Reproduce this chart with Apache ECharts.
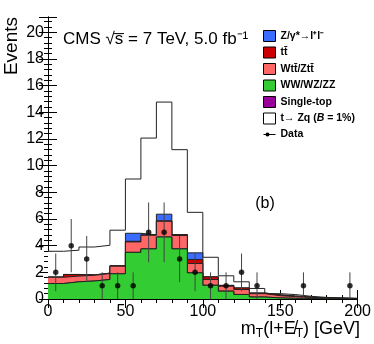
<!DOCTYPE html>
<html>
<head>
<meta charset="utf-8">
<script src="https://cdn.jsdelivr.net/npm/echarts@6/dist/echarts.min.js"></script>
<style>
html,body{margin:0;padding:0;background:#fff;}
#chart-container{width:374px;height:344px;}
</style>
</head>
<body>
<div id="chart-container"></div>
<script>
// bin edges in GeV (10 GeV bins)
var binEdges = [0,10,20,30,40,50,60,70,80,90,100,110,120,130,140,150,160,170,180,190,200];

// data counts and their error bars
var dataCounts = [2,4,3,1,1,1,5,5,3,2,1,1,2,1,0,0,1,0,0,1];
var dataErr = [1.41,2,1.73,1,1,1,2.24,2.24,1.73,1.41,1,1,1.41,1,0,0,1,0,0,1];

// backgrounds, each component alone
var diboson = [1.16,1.29,1.35,1.46,1.89,3.5,3.76,4.65,3.76,1.96,1.03,0.59,0.34,0.15,0.08,0.05,0.04,0.02,0.02,0.01];
var singleTop = [0,0,0,0,0,0,0,0,0,0,0,0,0,0,0,0,0,0,0,0];
var wttZtt = [0.47,0.43,0.43,0.45,0.57,0.78,1.02,1.18,1.0,0.7,0.43,0.37,0.37,0.25,0.17,0.13,0.08,0.06,0.03,0.02];
var ttbar = [0.02,0.12,0.03,0.03,0.03,0.05,0.03,0.03,0.07,0.3,0.2,0.06,0.12,0.05,0.06,0.04,0.02,0.01,0.01,0.01];
var zgamma = [0,0,0,0,0,0.6,0,0.5,0,0.5,0,0,0,0,0,0,0,0,0,0];

// t->Zq signal, height of the outline (drawn on top of background)
var signalTotal = [3.58,3.66,3.9,4.03,5.16,9.0,12.07,14.77,11.2,6.5,3.13,1.74,1.29,0.79,0.4,0.33,0.2,0.12,0.08,0.05];

function addUp(a, b) {
    return a.map(function (v, i) { return v + b[i]; });
}
var cumDiboson = diboson;
var cumSingleTop = addUp(cumDiboson, singleTop);
var cumWtt = addUp(cumSingleTop, wttZtt);
var cumTtbar = addUp(cumWtt, ttbar);
var cumZgamma = addUp(cumTtbar, zgamma);

function steps(vals) {
    var pts = vals.map(function (v, i) { return [binEdges[i], v]; });
    pts.push([binEdges[vals.length], vals[vals.length - 1]]);
    return pts;
}

function histSeries(name, vals, fill, z) {
    return {
        name: name,
        type: 'line',
        step: 'end',
        symbol: 'none',
        data: steps(vals),
        lineStyle: { color: '#222', width: 1 },
        itemStyle: { color: fill },
        areaStyle: { color: fill, opacity: 1 },
        z: z,
        silent: true
    };
}

var font = 'Liberation Sans, Arial, sans-serif';
var names = ['Z/γ*→l⁺l⁻', 'tt̄', 'Wtt̄/Ztt̄', 'WW/WZ/ZZ', 'Single-top', 't→ Zq (B = 1%)', 'Data'];

var myChart = echarts.init(document.getElementById('chart-container'));
myChart.setOption({
    animation: false,
    backgroundColor: '#fff',
    grid: { left: 48, right: 15.5, top: 17, bottom: 45 },
    xAxis: [{
        type: 'value', min: 0, max: 200, interval: 50,
        axisLine: { lineStyle: { color: '#000', width: 1 } },
        axisTick: { inside: true, length: 9, lineStyle: { color: '#000' } },
        minorTick: { show: true, splitNumber: 5, length: 4, lineStyle: { color: '#000' } },
        axisLabel: { fontFamily: font, fontSize: 16, color: '#000', margin: 5 },
        splitLine: { show: false }
    }, {
        type: 'value', min: 0, max: 200, interval: 50, position: 'top',
        axisLine: { lineStyle: { color: '#000', width: 1 } },
        axisTick: { inside: true, length: 9, lineStyle: { color: '#000' } },
        minorTick: { show: true, splitNumber: 5, length: 4, lineStyle: { color: '#000' } },
        axisLabel: { show: false },
        splitLine: { show: false }
    }],
    yAxis: [{
        type: 'value', min: 0, max: 21.15, interval: 2,
        axisLine: { show: true, lineStyle: { color: '#000', width: 1 } },
        axisTick: { show: true, inside: true, length: 9, lineStyle: { color: '#000' } },
        minorTick: { show: true, splitNumber: 5, length: 4, lineStyle: { color: '#000' } },
        axisLabel: { fontFamily: font, fontSize: 16, color: '#000', margin: 4 },
        splitLine: { show: false }
    }, {
        type: 'value', min: 0, max: 21.15, interval: 2, position: 'right',
        axisLine: { show: true, lineStyle: { color: '#000', width: 1 } },
        axisTick: { show: true, inside: true, length: 9, lineStyle: { color: '#000' } },
        minorTick: { show: true, splitNumber: 5, length: 4, lineStyle: { color: '#000' } },
        axisLabel: { show: false },
        splitLine: { show: false }
    }],
    legend: {
        orient: 'vertical',
        left: 258,
        top: 25,
        itemWidth: 12,
        itemHeight: 11,
        itemGap: 4.5,
        selectedMode: false,
        textStyle: {
            fontFamily: font, fontWeight: 'bold', fontSize: 10.5, color: '#000', lineHeight: 11,
            rich: {
                b: { fontFamily: font, fontWeight: 'bold', fontSize: 10.5, color: '#000', lineHeight: 11 },
                it: { fontFamily: font, fontWeight: 'bold', fontStyle: 'italic', fontSize: 10.5, color: '#000', lineHeight: 11 }
            }
        },
        formatter: function (name) {
            if (name === names[5]) return '{b|t→ Zq (}{it|B}{b| = 1%)}';
            return name;
        },
        data: [
            { name: names[0], icon: 'rect', itemStyle: { color: '#3a6cff', borderColor: '#000', borderWidth: 1 } },
            { name: names[1], icon: 'rect', itemStyle: { color: '#cc0000', borderColor: '#000', borderWidth: 1 } },
            { name: names[2], icon: 'rect', itemStyle: { color: '#ff6666', borderColor: '#000', borderWidth: 1 } },
            { name: names[3], icon: 'rect', itemStyle: { color: '#33cc33', borderColor: '#000', borderWidth: 1 } },
            { name: names[4], icon: 'rect', itemStyle: { color: '#990099', borderColor: '#000', borderWidth: 1 } },
            { name: names[5], icon: 'rect', itemStyle: { color: '#fff', borderColor: '#000', borderWidth: 1 } },
            { name: names[6], icon: 'path://M0,5h12v1h-12z M6,5.5a2,2 0 1,1 -4,0a2,2 0 1,1 4,0z M0,0h0.01v0.01h-0.01z M11.99,10.99h0.01v0.01h-0.01z',
              itemStyle: { color: '#000' } }
        ]
    },
    graphic: [
        { type: 'text', x: 63, y: 39, style: { text: 'CMS √s̅ = 7 TeV, 5.0 fb⁻¹', fontFamily: font, fontSize: 17, fill: '#000', verticalAlign: 'middle' } },
        { type: 'text', x: 265, y: 204, style: { text: '(b)', fontFamily: font, fontSize: 16, fill: '#000', align: 'center', verticalAlign: 'middle' } },
        { type: 'text', x: 12, y: 17, rotation: Math.PI / 2, style: { text: 'Events', fontFamily: font, fontSize: 19, fill: '#000', align: 'right', verticalAlign: 'middle' } },
        { type: 'text', x: 360, y: 329, style: {
            text: '{n|m}{s|T}{n|(l+E̸}{s|T}{n|) [GeV]}', align: 'right', verticalAlign: 'middle',
            rich: {
                n: { fontFamily: font, fontSize: 18, fill: '#000' },
                s: { fontFamily: font, fontSize: 12, fill: '#000', padding: [9, 0, 0, 0] }
            }
        } }
    ],
    series: [
        histSeries(names[5], signalTotal, '#ffffff', 1),
        histSeries(names[0], cumZgamma, '#3a6cff', 2),
        histSeries(names[1], cumTtbar, '#cc0000', 3),
        histSeries(names[2], cumWtt, '#ff6666', 4),
        histSeries(names[4], cumSingleTop, '#990099', 5),
        histSeries(names[3], cumDiboson, '#33cc33', 6),
        {
            name: names[6],
            type: 'custom',
            z: 10,
            silent: true,
            data: binEdges.slice(0, 20).map(function (x, i) { return [x + 5, dataCounts[i], dataErr[i]]; }),
            renderItem: function (params, api) {
                var v = api.value(1);
                if (!v) return;
                var top = api.coord([api.value(0), v + api.value(2)]);
                var bot = api.coord([api.value(0), v - api.value(2)]);
                return { type: 'line', shape: { x1: top[0], y1: top[1], x2: bot[0], y2: bot[1] }, style: { stroke: '#444', lineWidth: 1 } };
            }
        },
        {
            name: names[6],
            type: 'scatter',
            z: 11,
            silent: true,
            symbolSize: 5.5,
            itemStyle: { color: '#000' },
            data: binEdges.slice(0, 20).map(function (x, i) { return [x + 5, dataCounts[i]]; })
                .filter(function (p) { return p[1] > 0; })
        }
    ]
});
</script>
</body>
</html>
